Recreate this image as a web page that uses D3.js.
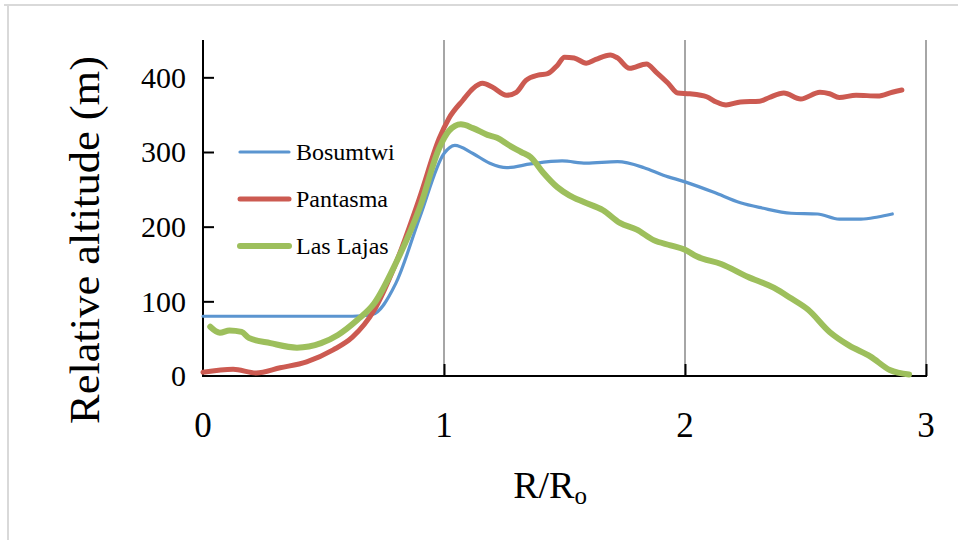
<!DOCTYPE html>
<html><head><meta charset="utf-8">
<script src="https://cdnjs.cloudflare.com/ajax/libs/d3/7.8.5/d3.min.js"></script>
<style>body{margin:0;background:#fff}svg{display:block}</style>
</head><body><svg id="c" width="958" height="540"></svg>
<script>
const seriesNames = ["Bosumtwi", "Pantasma", "Las Lajas"];
const xTicks = [0, 1, 2, 3];
const yTicks = [0, 100, 200, 300, 400];

const bosX = [0, 0.30, 0.62, 0.70, 0.80, 0.90, 1.0, 1.045, 1.12, 1.19, 1.26, 1.36, 1.49, 1.59, 1.72, 1.83, 1.91, 2.0, 2.12, 2.23, 2.32, 2.44, 2.55, 2.64, 2.73, 2.80, 2.86];
const bosY = [80, 80, 80, 82, 124, 213, 298, 309, 298, 285, 279, 284, 288, 285, 287, 279, 269, 260, 246, 232, 225, 218, 217, 210, 210, 213, 217];

const panX = [0, 0.125, 0.22, 0.32, 0.43, 0.54, 0.62, 0.71, 0.80, 0.90, 0.98, 1.02, 1.08, 1.12, 1.16, 1.20, 1.26, 1.30, 1.34, 1.39, 1.43, 1.47, 1.50, 1.54, 1.59, 1.63, 1.69, 1.72, 1.77, 1.84, 1.88, 1.93, 1.97, 2.02, 2.09, 2.13, 2.17, 2.23, 2.31, 2.35, 2.41, 2.48, 2.56, 2.60, 2.64, 2.71, 2.80, 2.86, 2.90];
const panY = [5, 9, 4, 11, 19, 35, 52, 88, 151, 240, 318, 345, 370, 385, 392, 387, 376, 380, 396, 403, 405, 416, 427, 426, 419, 424, 430, 426, 412, 418, 407, 392, 379, 378, 374, 367, 363, 367, 368, 373, 379, 371, 380, 378, 373, 376, 375, 380, 383];

const lajX = [0.03, 0.07, 0.11, 0.16, 0.19, 0.28, 0.39, 0.49, 0.56, 0.64, 0.71, 0.80, 0.90, 0.98, 1.02, 1.07, 1.12, 1.18, 1.22, 1.27, 1.32, 1.36, 1.41, 1.47, 1.52, 1.58, 1.66, 1.73, 1.80, 1.87, 1.94, 2.0, 2.05, 2.15, 2.26, 2.37, 2.44, 2.51, 2.60, 2.68, 2.77, 2.85, 2.93];
const lajY = [66, 58, 61, 59, 51, 44, 38, 44, 55, 75, 97, 151, 226, 305, 328, 337, 332, 323, 319, 309, 300, 293, 273, 253, 242, 233, 222, 205, 196, 182, 175, 169, 160, 150, 133, 118, 104, 89, 59, 41, 26, 8, 2];

const colors = ["#5b95d0", "#cc5a51", "#9dbf5c"];
const widths = [3.2, 5, 6];

const svg = d3.select("#c");
const font = "'Liberation Serif', 'DejaVu Serif', serif";

// outer frame
svg.append("line").attr("x1", 4).attr("x2", 958).attr("y1", 5).attr("y2", 5).attr("stroke", "#d9d9d9").attr("stroke-width", 2);
svg.append("line").attr("x1", 8).attr("x2", 8).attr("y1", 5).attr("y2", 540).attr("stroke", "#d9d9d9").attr("stroke-width", 2);

const x = d3.scaleLinear().domain([0, 3]).range([203, 926]);
const y = d3.scaleLinear().domain([0, 450]).range([376, 40]);

// vertical gridlines
svg.append("g").selectAll("line").data(xTicks.filter(d => d > 0)).join("line")
  .attr("x1", d => x(d)).attr("x2", d => x(d)).attr("y1", y(450)).attr("y2", y(0))
  .attr("stroke", "#a6a6a6").attr("stroke-width", 2);

// axes
const yAxis = d3.axisRight(y).tickValues(yTicks.filter(d => d > 0)).tickSize(11).tickFormat("");
const gy = svg.append("g").attr("transform", `translate(${x(0)},0)`).call(yAxis);
gy.select(".domain").remove();
gy.selectAll("line").attr("stroke", "#000").attr("stroke-width", 2);
svg.append("line").attr("x1", x(0)).attr("x2", x(0)).attr("y1", y(450)).attr("y2", y(0) + 1).attr("stroke", "#000").attr("stroke-width", 2);

const xAxis = d3.axisTop(x).tickValues(xTicks.filter(d => d > 0)).tickSize(12).tickFormat("");
const gx = svg.append("g").attr("transform", `translate(0,${y(0)})`).call(xAxis);
gx.select(".domain").remove();
gx.selectAll("line").attr("stroke", "#000").attr("stroke-width", 2);
svg.append("line").attr("x1", x(0) - 1).attr("x2", x(3) + 1).attr("y1", y(0)).attr("y2", y(0)).attr("stroke", "#000").attr("stroke-width", 2);

// tick labels
svg.append("g").selectAll("text").data(yTicks).join("text")
  .attr("x", 186).attr("y", d => y(d)).attr("dy", "0.34em")
  .attr("text-anchor", "end").attr("font-family", font).attr("font-size", 30)
  .text(d => d);
svg.append("g").selectAll("text").data(xTicks).join("text")
  .attr("x", d => x(d)).attr("y", 437)
  .attr("text-anchor", "middle").attr("font-family", font).attr("font-size", 35)
  .text(d => d);

// axis titles
svg.append("text").attr("transform", "translate(99,240) rotate(-90)")
  .attr("text-anchor", "middle").attr("font-family", font).attr("font-size", 43)
  .attr("textLength", 368).attr("lengthAdjust", "spacingAndGlyphs")
  .text("Relative altitude (m)");
const xt = svg.append("text").attr("x", 550).attr("y", 498).attr("text-anchor", "middle")
  .attr("font-family", font).attr("font-size", 38);
xt.append("tspan").text("R/R");
xt.append("tspan").attr("font-size", 25).attr("dy", 6).text("o");

// series
const line = d3.line().x(d => x(d[0])).y(d => y(d[1])).curve(d3.curveMonotoneX);
const data = [d3.zip(bosX, bosY), d3.zip(panX, panY), d3.zip(lajX, lajY)];
data.forEach((pts, i) => {
  svg.append("path").datum(pts).attr("d", line).attr("fill", "none")
    .attr("stroke", colors[i]).attr("stroke-width", widths[i])
    .attr("stroke-linejoin", "round").attr("stroke-linecap", "round");
});

// legend
const lg = svg.append("g");
seriesNames.forEach((name, i) => {
  const yy = 152 + i * 47;
  lg.append("line").attr("x1", 240).attr("x2", 289).attr("y1", yy).attr("y2", yy)
    .attr("stroke", colors[i]).attr("stroke-width", widths[i]).attr("stroke-linecap", "round");
  lg.append("text").attr("x", 296).attr("y", yy).attr("dy", "0.35em")
    .attr("font-family", font).attr("font-size", 24).text(name);
});
</script></body></html>
